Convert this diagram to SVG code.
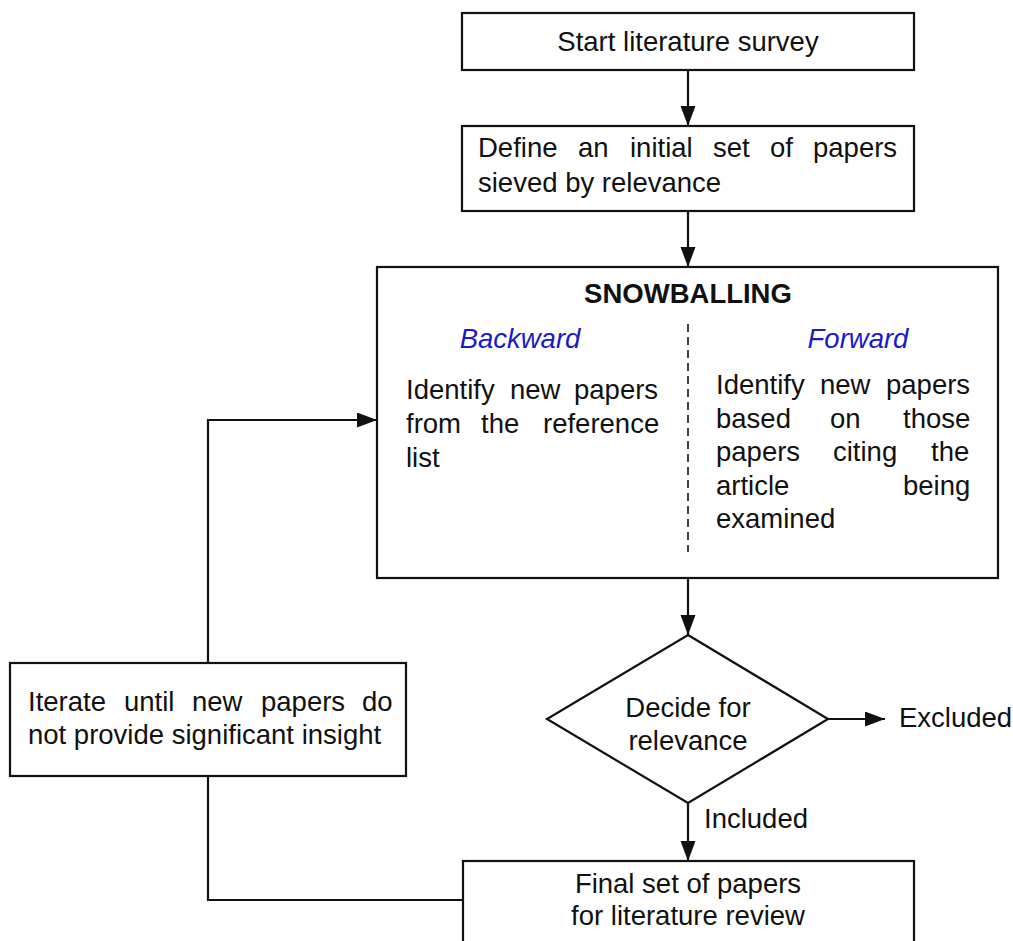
<svg xmlns="http://www.w3.org/2000/svg" width="1013" height="941" viewBox="0 0 1013 941">
<style>
.box{fill:#fff;stroke:#111;stroke-width:2.2}
.t{font-family:"Liberation Sans",Arial,sans-serif;font-size:27.5px;fill:#111}
.c{text-anchor:middle}
.b{font-weight:bold}
.blue{font-style:italic;fill:#1a1ac8}
.ln{fill:none;stroke:#111;stroke-width:2.2}
.dash{stroke:#111;stroke-width:1.6;stroke-dasharray:8 5}
</style>
<defs>
<marker id="ah" markerUnits="userSpaceOnUse" markerWidth="22" markerHeight="16" refX="20" refY="7.5" orient="auto">
<path d="M0,0 L20,7.5 L0,15 Z" fill="#111"/>
</marker>
</defs>
<rect width="1013" height="941" fill="#fff"/>
<g id="connectors">
<line class="ln" x1="688" y1="70" x2="688" y2="126" marker-end="url(#ah)"/>
<line class="ln" x1="688" y1="211" x2="688" y2="267" marker-end="url(#ah)"/>
<line class="ln" x1="688" y1="578" x2="688" y2="635" marker-end="url(#ah)"/>
<line class="ln" x1="828" y1="719" x2="885" y2="719" marker-end="url(#ah)"/>
<line class="ln" x1="688" y1="803" x2="688" y2="861" marker-end="url(#ah)"/>
<polyline class="ln" points="208,663 208,420 377,420" marker-end="url(#ah)"/>
<polyline class="ln" points="208,776 208,900 463,900"/>
<text class="t" x="704" y="828">Included</text>
<text class="t" x="899" y="727">Excluded</text>
</g>
<g id="start">
<rect class="box" x="462" y="13" width="452" height="57"/>
<text class="t c" x="688" y="51">Start literature survey</text>
</g>
<g id="define">
<rect class="box" x="462" y="126" width="452" height="85"/>
<text class="t" y="157"><tspan x="478">Define</tspan><tspan x="578">an</tspan><tspan x="630">initial</tspan><tspan x="713">set</tspan><tspan x="770">of</tspan><tspan x="813">papers</tspan></text>
<text class="t" x="478" y="192">sieved by relevance</text>
</g>
<g id="snowballing">
<rect class="box" x="377" y="267" width="621" height="311"/>
<text class="t c b" x="688" y="303">SNOWBALLING</text>
<line class="dash" x1="688" y1="324" x2="688" y2="552"/>
<text class="t c blue" x="520" y="348">Backward</text>
<text class="t c blue" x="858" y="348">Forward</text>
<text class="t" y="399"><tspan x="406">Identify</tspan><tspan x="510">new</tspan><tspan x="574">papers</tspan></text>
<text class="t" y="433"><tspan x="406">from</tspan><tspan x="481">the</tspan><tspan x="543">reference</tspan></text>
<text class="t" x="406" y="467">list</text>
<text class="t" y="394"><tspan x="716">Identify</tspan><tspan x="820">new</tspan><tspan x="886">papers</tspan></text>
<text class="t" y="428"><tspan x="716">based</tspan><tspan x="830">on</tspan><tspan x="903">those</tspan></text>
<text class="t" y="461"><tspan x="716">papers</tspan><tspan x="833">citing</tspan><tspan x="931">the</tspan></text>
<text class="t" y="495"><tspan x="716">article</tspan><tspan x="903">being</tspan></text>
<text class="t" x="716" y="528">examined</text>
</g>
<g id="decide">
<polygon class="box" points="688,635 828,719 688,803 547,719"/>
<text class="t c" x="688" y="717">Decide for</text>
<text class="t c" x="688" y="750">relevance</text>
</g>
<g id="iterate">
<rect class="box" x="10" y="663" width="396" height="113"/>
<text class="t" y="711"><tspan x="28">Iterate</tspan><tspan x="124">until</tspan><tspan x="192">new</tspan><tspan x="261">papers</tspan><tspan x="362">do</tspan></text>
<text class="t" x="28" y="744">not provide significant insight</text>
</g>
<g id="final">
<rect class="box" x="463" y="861" width="451" height="100"/>
<text class="t c" x="688" y="893">Final set of papers</text>
<text class="t c" x="688" y="925">for literature review</text>
</g>
</svg>
